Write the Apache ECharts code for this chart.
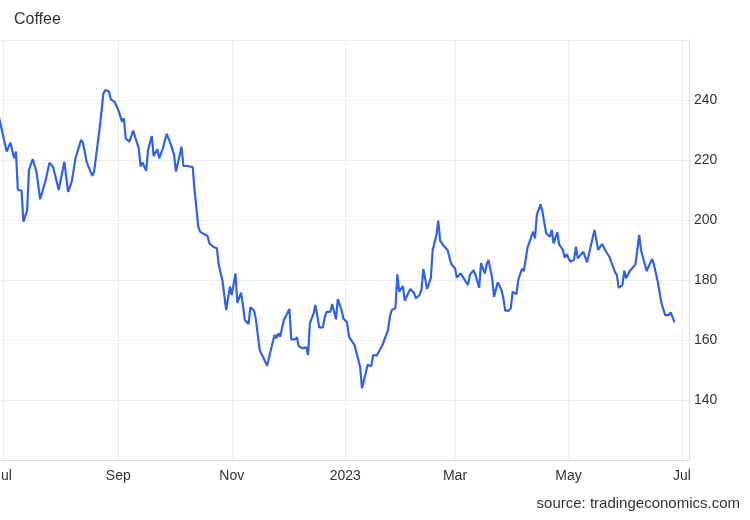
<!DOCTYPE html>
<html>
<head>
<meta charset="utf-8">
<script src="https://cdn.jsdelivr.net/npm/echarts@6/dist/echarts.min.js"></script>
<style>
  html, body { margin: 0; padding: 0; background: #fff; }
  #chart { width: 750px; height: 520px; }
</style>
</head>
<body>
<div id="chart"></div>
<script>
// Coffee price, Jun 2022 - Jun 2023
const dates = [
  '2022-06-29','2022-07-01','2022-07-03','2022-07-05','2022-07-07','2022-07-08','2022-07-09','2022-07-11','2022-07-12','2022-07-14',
  '2022-07-15','2022-07-17','2022-07-19','2022-07-21','2022-07-24','2022-07-26','2022-07-28','2022-07-31','2022-08-03','2022-08-05',
  '2022-08-07','2022-08-08','2022-08-09','2022-08-12','2022-08-13','2022-08-15','2022-08-18','2022-08-19','2022-08-22','2022-08-24',
  '2022-08-25','2022-08-27','2022-08-28','2022-08-30','2022-08-31','2022-09-01','2022-09-03','2022-09-04','2022-09-05','2022-09-07',
  '2022-09-09','2022-09-10','2022-09-12','2022-09-13','2022-09-14','2022-09-16','2022-09-17','2022-09-19','2022-09-20','2022-09-22',
  '2022-09-23','2022-09-25','2022-09-26','2022-09-27','2022-09-29','2022-10-01','2022-10-02','2022-10-03','2022-10-05','2022-10-06',
  '2022-10-08','2022-10-09','2022-10-11','2022-10-12','2022-10-14','2022-10-15','2022-10-17','2022-10-19','2022-10-20','2022-10-22',
  '2022-10-24','2022-10-25','2022-10-27','2022-10-28','2022-10-29','2022-10-31','2022-11-01','2022-11-03','2022-11-04','2022-11-06',
  '2022-11-07','2022-11-08','2022-11-10','2022-11-11','2022-11-13','2022-11-14','2022-11-16','2022-11-17','2022-11-19','2022-11-20',
  '2022-11-22','2022-11-24','2022-11-25','2022-11-26','2022-11-27','2022-11-29','2022-11-30','2022-12-02','2022-12-03','2022-12-05',
  '2022-12-06','2022-12-07','2022-12-09','2022-12-11','2022-12-12','2022-12-13','2022-12-15','2022-12-16','2022-12-18','2022-12-20',
  '2022-12-21','2022-12-22','2022-12-24','2022-12-25','2022-12-27','2022-12-28','2022-12-30','2022-12-31','2023-01-02','2023-01-03',
  '2023-01-04','2023-01-06','2023-01-07','2023-01-09','2023-01-10','2023-01-12','2023-01-13','2023-01-15','2023-01-16','2023-01-18',
  '2023-01-19','2023-01-21','2023-01-22','2023-01-24','2023-01-25','2023-01-26','2023-01-28','2023-01-29','2023-01-30','2023-02-01',
  '2023-02-02','2023-02-04','2023-02-05','2023-02-07','2023-02-08','2023-02-10','2023-02-11','2023-02-12','2023-02-14','2023-02-16',
  '2023-02-17','2023-02-19','2023-02-20','2023-02-21','2023-02-23','2023-02-25','2023-02-26','2023-02-27','2023-03-01','2023-03-02',
  '2023-03-04','2023-03-05','2023-03-08','2023-03-09','2023-03-11','2023-03-12','2023-03-14','2023-03-15','2023-03-17','2023-03-18',
  '2023-03-19','2023-03-21','2023-03-22','2023-03-24','2023-03-26','2023-03-27','2023-03-28','2023-03-30','2023-03-31','2023-04-01',
  '2023-04-03','2023-04-04','2023-04-06','2023-04-07','2023-04-09','2023-04-10','2023-04-12','2023-04-13','2023-04-14','2023-04-16',
  '2023-04-17','2023-04-19','2023-04-21','2023-04-22','2023-04-23','2023-04-25','2023-04-26','2023-04-28','2023-04-29','2023-04-30',
  '2023-05-02','2023-05-04','2023-05-05','2023-05-06','2023-05-09','2023-05-11','2023-05-12','2023-05-15','2023-05-17','2023-05-19',
  '2023-05-22','2023-05-23','2023-05-24','2023-05-26','2023-05-27','2023-05-28','2023-05-30','2023-05-31','2023-06-01','2023-06-03',
  '2023-06-04','2023-06-06','2023-06-08','2023-06-09','2023-06-12','2023-06-13','2023-06-15','2023-06-16','2023-06-18','2023-06-20',
  '2023-06-21','2023-06-22','2023-06-24','2023-06-25','2023-06-27'
];
const prices = [
  233.9,228.3,222.8,225.8,220.6,222.8,210,209.8,199.4,203.3,
  216.7,220.3,216.1,206.9,213.3,219.1,217.6,210,219.4,209.4,
  212.8,213.3,220.6,226.7,225.8,219.4,214.7,216.1,230.6,242.2,
  243.3,242.8,240.2,239.4,239.7,236.7,232.8,233.9,227.2,226.1,
  229.8,227.8,223.9,217.8,219.2,216.4,223.3,228,221.3,223.6,
  220.6,223.9,224.4,228.7,225.6,221.7,216.1,218.9,224.4,218,
  218,217.6,217.6,210,197.8,196.1,195.3,194.7,192.2,191.1,
  190.6,185,179.8,179.2,170,177.8,175,182.2,172.4,175.8,
  171.7,166.7,165.3,170.9,169.8,166.7,156.7,155.3,152.8,151.4,
  156.7,161.7,160.6,162.2,161.1,166.7,167.8,170.3,160.2,160.2,
  160.9,158,157.2,157.6,155,165.6,168.9,171.7,164.2,164.2,
  167.6,169.4,169.4,172,166.9,173.6,170,167.2,165.8,161.1,
  160.6,158.3,157.8,151.1,143.9,148.9,151.7,151.3,155,154.8,
  155,158.3,160,163.3,167.8,170,170.6,181.9,176.1,178,
  173.1,175.8,177,175.6,173.9,175,176.9,183.6,177,180.6,
  190,195,199.8,193.1,191.3,190,190.2,185.3,183.9,180.8,
  182.2,182.2,178.3,181.7,183.3,181.7,177.4,185.6,182.2,185,
  186.7,180.6,174.4,179.2,176.7,173.9,169.8,169.8,170.6,176.1,
  175.2,180,183.7,183,190.8,190.8,196.1,193.9,201.7,205.2,
  202.8,195.6,194.4,196.7,192.2,195.9,191.9,190,187.4,188.6,
  186.1,186.7,191.1,187.2,189.4,185.9,186.1,196.7,190,192,
  188.6,187.8,188,182.6,181.7,177.4,178.3,183.1,180.6,183,
  183,185.2,195,190,183,184.4,187,185,179.4,172.2,
  171.7,168.3,168.3,169.2,165.9
];
const monthNames = ['Jan','Feb','Mar','Apr','May','Jun','Jul','Aug','Sep','Oct','Nov','Dec'];
const xStart = new Date(2022, 5, 29, 10).getTime();
const xEnd = new Date(2023, 6, 4, 19).getTime();

const chart = echarts.init(document.getElementById('chart'), null, { renderer: 'canvas' });

const seriesData = dates.map(function (d, i) {
  const p = d.split('-');
  return [new Date(+p[0], +p[1] - 1, +p[2]).getTime(), prices[i]];
});

const option = {
  animation: false,
  backgroundColor: '#ffffff',
  title: [
    {
      text: 'Coffee',
      left: 9,
      top: 7,
      textStyle: { color: '#333', fontSize: 16, fontWeight: 'normal', fontFamily: 'Liberation Sans' }
    },
    {
      text: 'source: tradingeconomics.com',
      right: 5,
      bottom: 4,
      textStyle: { color: '#333', fontSize: 15, fontWeight: 'normal', fontFamily: 'Liberation Sans' }
    }
  ],
  grid: { left: 0, right: 61, top: 40, bottom: 60, containLabel: false, outerBoundsMode: 'none' },
  xAxis: {
    type: 'time',
    min: xStart,
    max: xEnd,
    splitNumber: 5,
    axisLine: { show: true, lineStyle: { color: '#dddddd', width: 1 } },
    axisTick: { show: false },
    splitLine: { show: true, showMinLine: false, lineStyle: { color: '#ececec', width: 1 } },
    axisLabel: {
      color: '#333',
      fontSize: 14,
      fontFamily: 'Liberation Sans',
      margin: 9,
      showMinLabel: false,
      showMaxLabel: false,
      formatter: function (value) {
        const d = new Date(value);
        return d.getMonth() === 0 ? String(d.getFullYear()) : monthNames[d.getMonth()];
      }
    }
  },
  yAxis: {
    type: 'value',
    position: 'right',
    min: 120,
    max: 260,
    interval: 20,
    axisLine: { show: true, lineStyle: { color: '#dddddd', width: 1 } },
    axisTick: { show: false },
    splitLine: { show: true, lineStyle: { color: '#ececec', width: 1 } },
    axisLabel: {
      color: '#333',
      fontSize: 14,
      fontFamily: 'Liberation Sans',
      margin: 5,
      showMinLabel: false,
      showMaxLabel: false
    }
  },
  series: [
    {
      name: 'Coffee',
      type: 'line',
      data: seriesData,
      showSymbol: false,
      symbol: 'none',
      lineStyle: { color: '#2f62e6', width: 2.2 },
      emphasis: { disabled: true }
    }
  ]
};

chart.setOption(option);
</script>
</body>
</html>
